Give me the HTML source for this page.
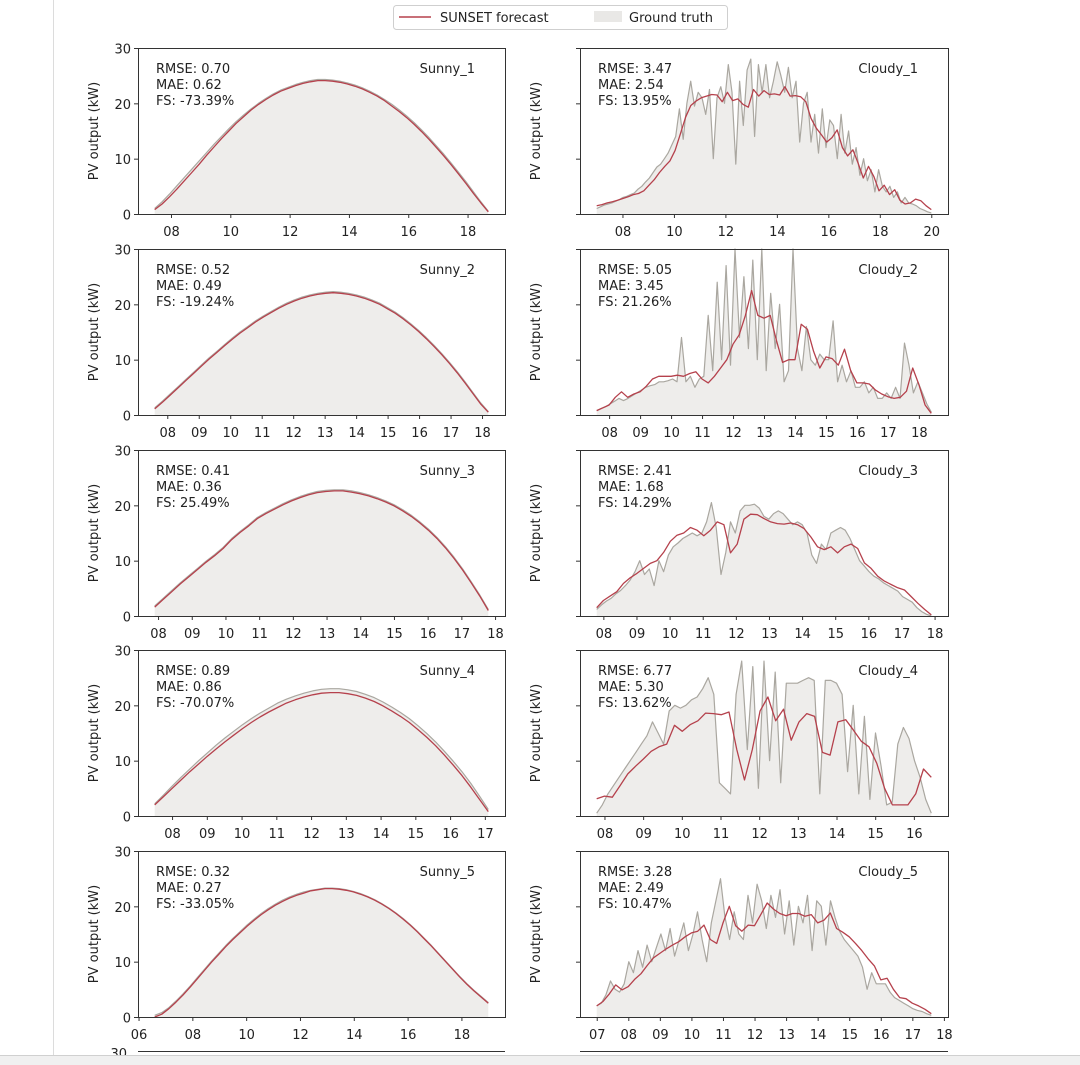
<!DOCTYPE html>
<html><head><meta charset="utf-8">
<style>
html,body{margin:0;padding:0;background:#fff;}
svg{display:block;font-family:"DejaVu Sans","Liberation Sans",sans-serif;}
</style></head>
<body>
<svg id="chart" width="1080" height="1065" viewBox="0 0 1080 1065" xmlns="http://www.w3.org/2000/svg">
<rect x="0" y="0" width="1080" height="1065" fill="#fff"/>
<line x1="53.5" y1="0" x2="53.5" y2="1055" stroke="#dcdcdc" stroke-width="1"/>
<g>
<rect x="393.5" y="5.5" width="334" height="24" rx="3" fill="#fff" stroke="#cfcfcf"/>
<line x1="399" y1="17" x2="431" y2="17" stroke="#b5414c" stroke-width="1.4"/>
<text x="440" y="22" font-size="13" fill="#222">SUNSET forecast</text>
<rect x="594" y="11" width="28" height="11" fill="#e9e8e6"/>
<text x="629" y="22" font-size="13" fill="#222">Ground truth</text>
</g>
<g id="panels"></g>
<g>
<line x1="138" y1="1051.5" x2="505" y2="1051.5" stroke="#333"/>
<line x1="580" y1="1051.5" x2="948" y2="1051.5" stroke="#333"/>
<text x="127" y="1058" font-size="13" text-anchor="end" fill="#222">30</text>
</g>
<rect x="0" y="1055" width="1080" height="10" fill="#f0f0f0"/>
<line x1="0" y1="1055.5" x2="1080" y2="1055.5" stroke="#d0d0d0"/>
</svg>
<script>
// ---- data (hours, kW) ----
const sunny1Span=[7.45,18.7];
const sunny1Truth=[1,2.2,3.6,5.1,6.6,8.1,9.6,11.1,12.6,14,15.4,16.7,17.9,19,20,20.9,21.7,22.4,22.9,23.4,23.8,24.1,24.3,24.3,24.2,24,23.7,23.3,22.8,22.2,21.5,20.7,19.8,18.8,17.7,16.5,15.2,13.8,12.3,10.8,9.2,7.5,5.8,4,2.2,0.5];
const sunny1Forecast=[0.8,1.8,3.1,4.5,6,7.5,9,10.6,12.1,13.6,15,16.4,17.6,18.8,19.8,20.7,21.5,22.2,22.7,23.2,23.6,23.9,24.1,24.1,24,23.8,23.5,23.1,22.6,22,21.3,20.5,19.5,18.5,17.4,16.2,14.9,13.5,12,10.5,8.9,7.2,5.5,3.7,2,0.4];
const sunny2Span=[7.6,18.2];
const sunny2Truth=[1.3,2.5,3.8,5.1,6.4,7.7,9,10.3,11.5,12.7,13.9,15,16,17,17.9,18.7,19.5,20.2,20.8,21.3,21.7,22,22.2,22.3,22.2,22,21.7,21.3,20.8,20.2,19.4,18.6,17.6,16.5,15.3,14,12.6,11.1,9.5,7.8,6,4.1,2.2,0.6];
const sunny2Forecast=[1.1,2.3,3.6,4.9,6.2,7.5,8.8,10.1,11.3,12.5,13.7,14.8,15.8,16.8,17.7,18.5,19.3,20,20.6,21.1,21.5,21.8,22,22.1,22,21.8,21.5,21.1,20.6,20,19.2,18.4,17.4,16.3,15.1,13.8,12.4,10.9,9.3,7.6,5.8,3.9,2,0.5];
const sunny3Span=[7.9,17.8];
const sunny3Truth=[1.8,3.2,4.6,6,7.3,8.6,9.9,11.1,12.4,14,15.3,16.5,17.8,18.7,19.5,20.3,21,21.6,22.1,22.5,22.7,22.8,22.8,22.6,22.3,21.9,21.4,20.8,20.1,19.2,18.2,17,15.7,14.2,12.5,10.6,8.5,6.2,3.8,1.2];
const sunny3Forecast=[1.6,3,4.4,5.8,7.1,8.4,9.7,10.9,12.2,13.8,15.1,16.3,17.6,18.5,19.3,20.1,20.8,21.4,21.9,22.3,22.5,22.6,22.6,22.4,22.1,21.7,21.2,20.6,19.9,19,18,16.8,15.5,14,12.3,10.4,8.3,6,3.6,1];
const sunny4Span=[7.5,17.1];
const sunny4Truth=[2.2,3.8,5.4,7,8.5,10,11.4,12.8,14.1,15.3,16.5,17.6,18.6,19.5,20.4,21.1,21.7,22.2,22.6,22.9,23,23,22.8,22.5,22,21.4,20.6,19.7,18.7,17.6,16.3,14.9,13.4,11.7,9.9,8,5.9,3.6,1.2];
const sunny4Forecast=[2,3.5,5,6.5,8,9.4,10.8,12.1,13.4,14.6,15.8,16.9,17.9,18.8,19.6,20.4,21,21.5,21.9,22.2,22.3,22.3,22.1,21.8,21.3,20.7,19.9,19,18,16.9,15.6,14.2,12.7,11,9.2,7.3,5.2,3,0.8];
const sunny5Span=[6.6,19.0];
const sunny5Truth=[0.3,0.8,1.7,2.9,4.2,5.6,7.1,8.6,10.1,11.5,12.9,14.2,15.4,16.6,17.7,18.7,19.6,20.4,21.1,21.7,22.2,22.6,22.9,23.1,23.3,23.3,23.2,23,22.7,22.3,21.8,21.2,20.5,19.7,18.8,17.8,16.7,15.5,14.2,12.9,11.5,10.1,8.7,7.3,6,4.8,3.7,2.6];
const sunny5Forecast=[0,0.5,1.5,2.7,4,5.4,6.9,8.4,9.9,11.3,12.7,14,15.2,16.4,17.5,18.5,19.4,20.2,20.9,21.5,22,22.4,22.8,23,23.2,23.2,23.1,22.9,22.6,22.2,21.7,21.1,20.4,19.6,18.7,17.7,16.6,15.4,14.1,12.8,11.4,10,8.6,7.2,5.9,4.7,3.6,2.5];

const cloudy1Span=[7.0,20.0];
const cloudy1Truth=[1,1.3,1.6,1.8,2,2.3,2.6, 3,3.2,3.5,3.8,4.5,5,5.8, 6.5,7.5,8.5,9,10,11,12.5, 14,19,13.5,20,24,19.5,22, 21,18,22.5,10,21,23,20, 27,22,9,24,16,26,28, 14,27,22,27,21,24,27.5, 25,22,26.5,21,24,13,20, 22,13,18,11,19,12,17, 16,10,18,11,15,9,12, 7,10,6,8,4,8,5, 4,5,3,4,2,3,2, 1.8,1.5,1,0.7,0.4,0.2];
const cloudy1Forecast=[1.5,1.7,2,2.2,2.5,2.8,3.1,3.5,3.7,4.2,5.2,6.2,7.5,8.6,9.6,11.5,14.5,17.5,19.6,20.4,21,21.3,21.6,21.5,20.3,22,20.5,20.8,19.8,19.3,22.5,21.3,22.3,21.6,21.7,21.5,23,21.3,21.4,21.2,20.3,17.3,15.5,14.3,13,13.8,15.2,12,10.5,11.6,9.2,6.5,8.6,6.8,4.2,5.2,3.5,4.4,2.5,1.8,2,2.7,2.4,1.5,0.8];
const cloudy2Span=[7.6,18.4];
const cloudy2Truth=[0.8,1.2,1.5, 2,2.5,3,2.6,3,3.5,4, 4.5,5,5.3,5.5,6,6,6.2, 6.5,6,14,6,7,5,6.5, 7,18,8,24,10,27,9, 30,14,25,12,28,10,30, 8,22,12,20,6,8,30, 12,8,16,10,9,11,10, 10,17,6,9,6,8,5, 5,6,4,5,3,3,4, 3,5,3,13,9,4,6, 4,2,0.5];
const cloudy2Forecast=[0.8,1.3,1.8,3.2,4.2,3.2,3.8,4.2,5.2,6.5,7,7,7,7.2,7,7.5,7.8,6.5,5.8,7,8.5,10,12.8,14.5,18,22.5,18,17.5,18,13.5,9.5,10,10,16.4,15.5,11.5,8.5,10.5,10.2,9,11.9,8,5.8,5.8,5.6,4.5,3.8,3.3,3,3.2,4.3,8.5,5.5,1.8,0.3];
const cloudy3Span=[7.8,17.9];
const cloudy3Truth=[1.2,2, 2.7,3.2,4,4.6,5.5,6.5,8, 10,7.5,8.5,5.5,10,8,11, 12.5,13.2,14,14.5,15,14.5,15, 17,20.5,16,7.5,11.5,17,15, 19,20,20,20.2,19.5,18,17.5, 18.5,19,18.5,17.5,16.5,17,16.5, 15,11,9.5,13,12,15,15.5, 16,15.5,14,12,10,9,8, 7.2,6.7,6,5.5,5,4.5,3.5, 3,2.5,1.5,0.8,0.3,0];
const cloudy3Forecast=[1.5,2.8,3.6,4.4,5.9,6.9,7.7,8.6,9.5,10,11.5,13.5,14.6,15,16,15.5,14.5,15.5,17,16.5,11.4,13,17.5,18.4,18.3,17.6,17,16.7,16.6,16.8,16.5,15.8,14.3,12.5,12,12.5,11.4,12.5,13,12.2,9.6,8.6,7.2,6.3,5.7,5.1,4.7,3.5,2.3,1.2,0.2];
const cloudy4Span=[7.8,16.45];
const cloudy4Truth=[0.5,2, 4,5.5,7,8.5,10,11.5,13, 14.5,17,15,13,19,20,19.5, 20,21,21.5,23,25,22,6, 5,4,22,28,12,27,5, 28,10,26,6,24,24,24, 24.5,25,24.5,4,24.5,24.5,24, 22,8,20,4,18,3,15, 9,2,2.5,13,16,14,10, 7,3,0.5];
const cloudy4Forecast=[3.1,3.6,3.4,5.5,7.6,9,10.3,11.7,12.5,13,16.4,15.3,16.5,17.2,18.6,18.5,18.3,18.8,12,6.5,12,19,21.5,17.2,19.3,13.7,17,18.5,18,11.5,11,17,17.4,15.5,13.5,12.5,9.5,5,2,2,2,4,8.5,7];
const cloudy5Span=[7.0,17.6];
const cloudy5Truth=[2,2.5,4,6.5,5,4.5,6, 10,8,12,9,13,10,12.5, 15,12,16,11,14,17,12, 15,19,14,10,17,21,25, 18,14,19,15,14,22,17, 24,21,16,22,18,23,15, 21,13,20,17,22,12,21, 20,13,21,18,15.5,14,13, 12,11,9,5,8,6,6, 6,4.5,3.5,3,2.5,2,1.5, 1.2,1,0.6,0.3];
const cloudy5Forecast=[2,2.8,4.2,5.8,4.9,5.5,6.8,7.8,9.3,10.7,11.5,12.3,13,13.6,14.5,15.2,15.5,16.6,14,13.3,17,20,16.5,15.5,16.6,16.5,18.5,20.6,19.5,18.7,18.3,18.7,18.7,18.2,18.5,17,17.5,18.8,16,15.3,14.5,13.3,12,10.5,9.2,6.7,7,5,3.5,3.3,2.5,2,1.4,0.6];

const panelTitles=["Sunny_1","Cloudy_1","Sunny_2","Cloudy_2","Sunny_3","Cloudy_3","Sunny_4","Cloudy_4","Sunny_5","Cloudy_5"];
const rmseLabels=["0.70","3.47","0.52","5.05","0.41","2.41","0.89","6.77","0.32","3.28"];
const maeLabels=["0.62","2.54","0.49","3.45","0.36","1.68","0.86","5.30","0.27","2.49"];
const fsLabels=["-73.39%","13.95%","-19.24%","21.26%","25.49%","14.29%","-70.07%","13.62%","-33.05%","10.47%"];
const yTicks=[0,10,20,30];
const xTickSteps=[2,2,1,1,1,1,1,1,2,1];

const spans=[sunny1Span,cloudy1Span,sunny2Span,cloudy2Span,sunny3Span,cloudy3Span,sunny4Span,cloudy4Span,sunny5Span,cloudy5Span];
const truths=[sunny1Truth,cloudy1Truth,sunny2Truth,cloudy2Truth,sunny3Truth,cloudy3Truth,sunny4Truth,cloudy4Truth,sunny5Truth,cloudy5Truth];
const forecasts=[sunny1Forecast,cloudy1Forecast,sunny2Forecast,cloudy2Forecast,sunny3Forecast,cloudy3Forecast,sunny4Forecast,cloudy4Forecast,sunny5Forecast,cloudy5Forecast];

// ---- drawing ----
const NS="http://www.w3.org/2000/svg";
const root=document.getElementById('panels');
function mk(tag,attrs,parent){const e=document.createElementNS(NS,tag);for(const k in attrs)e.setAttribute(k,attrs[k]);(parent||root).appendChild(e);return e;}
const colX=[[138,505],[580,948]];
const YMAX=30, PH=166;

for(let p=0;p<10;p++){
  const col=p%2,row=Math.floor(p/2);
  const x0=colX[col][0],x1=colX[col][1];
  const top=Math.round(48+row*200.75),bot=top+PH;
  const span=spans[p],t0=span[0],t1=span[1],m=(t1-t0)*0.05;
  const xmin=t0-m,xmax=t1+m;
  const X=t=>x0+(t-xmin)/(xmax-xmin)*(x1-x0);
  const Y=v=>bot-v/YMAX*PH;
  const g=mk('g',{});
  
  
  // truth
  const tr=truths[p];
  const tt=i=>t0+(t1-t0)*i/(tr.length-1);
  let pts=tr.map((v,i)=>X(tt(i)).toFixed(1)+','+Y(v).toFixed(1));
  const fill=mk('polygon',{points:X(t0).toFixed(1)+','+bot+' '+pts.join(' ')+' '+X(t1).toFixed(1)+','+bot,fill:'#eeedeb',stroke:'none'},g);
  
  
  const tl=mk('polyline',{points:pts.join(' '),fill:'none',stroke:'#aaa7a0','stroke-width':1.2,'stroke-linejoin':'round'},g);
  
  
  // forecast
  const fc=forecasts[p];
  const ft=i=>t0+(t1-t0)*i/(fc.length-1);
  const fl=mk('polyline',{points:fc.map((v,i)=>X(ft(i)).toFixed(1)+','+Y(v).toFixed(1)).join(' '),fill:'none',stroke:'#b5414c','stroke-width':1.3,'stroke-linejoin':'round'},g);
  
  
  // frame
  const fr=mk('rect',{x:x0+0.5,y:top+0.5,width:x1-x0,height:PH,fill:'none',stroke:'#333','stroke-width':1},g);
  
  
  // y ticks
  yTicks.forEach(v=>{
    const y=Y(v)+0.5;
    mk('line',{x1:x0-4,y1:y,x2:x0,y2:y,stroke:'#333'},g);
    if(col===0){
      const tx=mk('text',{x:x0-7,y:y+5,'font-size':13,'text-anchor':'end',fill:'#222'},g);
      tx.textContent=String(v);
      
      
    }
  });
  // x ticks
  const st=xTickSteps[p];
  for(let h=Math.ceil(xmin/st)*st;h<=xmax;h+=st){
    const x=X(h)+0.5;
    mk('line',{x1:x,y1:bot,x2:x,y2:bot+4,stroke:'#333'},g);
    const tx=mk('text',{x:x,y:bot+22,'font-size':13,'text-anchor':'middle',fill:'#222'},g);
    tx.textContent=(h<10?'0':'')+h;
    
    
  }
  // y title
  const yx=x0-40, yc=top+PH/2;
  const yt=mk('text',{x:yx,y:yc,'font-size':13,'text-anchor':'middle',fill:'#222',transform:'rotate(-90 '+yx+' '+yc+')'},g);
  yt.textContent='PV output (kW)';
  
  
  // annotations
  const lines=['RMSE: '+rmseLabels[p],'MAE: '+maeLabels[p],'FS: '+fsLabels[p]];
  lines.forEach((s,i)=>{
    const a=mk('text',{x:x0+18,y:top+25+i*16,'font-size':13,fill:'#222'},g);
    a.textContent=s;
    
    
  });
  const ti=mk('text',{x:x1-30,y:top+25,'font-size':13,'text-anchor':'end',fill:'#222'},g);
  ti.textContent=panelTitles[p];
  
  
}
</script>
</body></html>
